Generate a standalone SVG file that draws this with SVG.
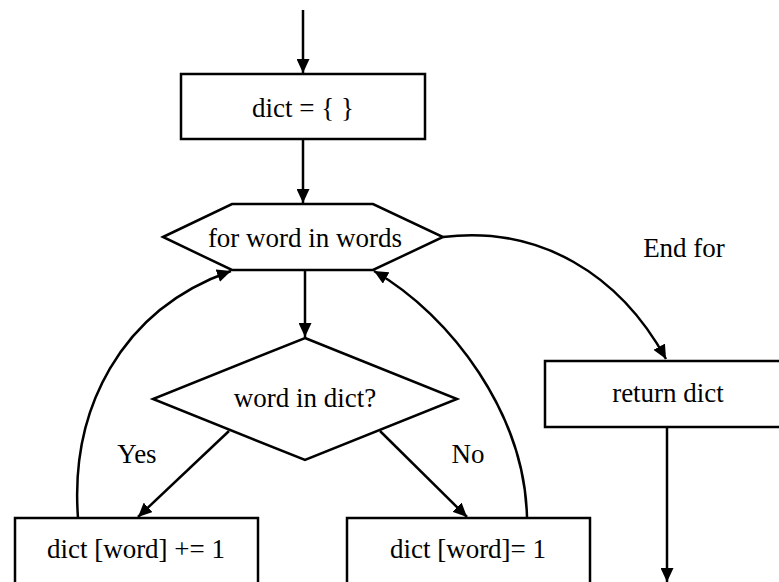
<svg xmlns="http://www.w3.org/2000/svg" width="779" height="582" viewBox="0 0 779 582">
<style>
.n{fill:#fff;stroke:#000;stroke-width:2.5}
.c{fill:none;stroke:#000;stroke-width:2.5}
</style>
<defs>
<marker id="ah" viewBox="0 0 14 13" refX="14" refY="6.5" markerWidth="14" markerHeight="13" markerUnits="userSpaceOnUse" orient="auto">
<path d="M0,0 L14,6.5 L0,13 Z" fill="#000"/>
</marker>
</defs>
<rect width="779" height="582" fill="#fff"/>
<g id="connectors">
<path class="c" d="M303,10 L303,73" marker-end="url(#ah)"/>
<path class="c" d="M303,139 L303,203" marker-end="url(#ah)"/>
<path class="c" d="M305,270 L305,337" marker-end="url(#ah)"/>
<path class="c" d="M229,431 L138,517" marker-end="url(#ah)"/>
<path class="c" d="M380,431 L467,517" marker-end="url(#ah)"/>
<path class="c" d="M78,518 C70,410 120,310 231,271" marker-end="url(#ah)"/>
<path class="c" d="M527,518 C525,415 452,316 374,271" marker-end="url(#ah)"/>
<path class="c" d="M443,237 C540,225 620,275 666,359" marker-end="url(#ah)"/>
<path class="c" d="M667,427 L667,582" marker-end="url(#ah)"/>
</g>
<g font-family="Liberation Serif, serif" font-size="27" text-anchor="middle" fill="#000">
<g id="init">
<rect class="n" x="181" y="74" width="244" height="65"/>
<text x="303" y="117">dict = { }</text>
</g>
<g id="loop">
<polygon class="n" points="163,237 232,204 373,204 443,237 373,270 232,270"/>
<text x="305" y="247">for word in words</text>
</g>
<g id="decision">
<polygon class="n" points="305,338 457,399 305,460 153,399"/>
<text x="305" y="407">word in dict?</text>
</g>
<g id="inc">
<rect class="n" x="15" y="518" width="243" height="80"/>
<text x="136" y="558">dict [word] += 1</text>
</g>
<g id="set">
<rect class="n" x="347" y="518" width="243" height="80"/>
<text x="468" y="558">dict [word]= 1</text>
</g>
<g id="ret">
<rect class="n" x="545" y="361" width="240" height="66"/>
<text x="668" y="402">return dict</text>
</g>
<g id="labels">
<text x="137" y="463">Yes</text>
<text x="468" y="463">No</text>
<text x="684" y="257">End for</text>
</g>
</g>
</svg>
